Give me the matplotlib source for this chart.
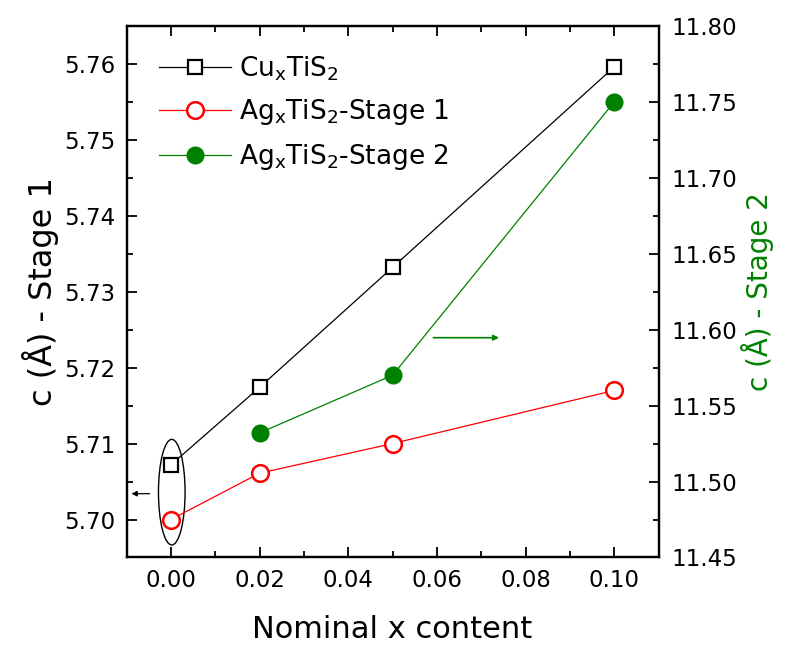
import matplotlib
matplotlib.use("Agg")
import matplotlib.pyplot as plt
from matplotlib.patches import Ellipse
from matplotlib.ticker import MultipleLocator, FormatStrFormatter

plt.rcParams["font.family"] = ["DejaVu Sans"]
plt.rcParams["mathtext.default"] = "regular"

# Nominal x content and lattice parameter c (Å)
x_cu = [0.00, 0.02, 0.05, 0.10]
c_cu = [5.7072, 5.7174, 5.7332, 5.7596]

x_ag1 = [0.00, 0.02, 0.05, 0.10]
c_ag1 = [5.7000, 5.7061, 5.7100, 5.7170]

x_ag2 = [0.02, 0.05, 0.10]
c_ag2 = [11.532, 11.570, 11.750]

labels = [r"Cu$_x$TiS$_2$", r"Ag$_x$TiS$_2$-Stage 1", r"Ag$_x$TiS$_2$-Stage 2"]

RED = "#ff0000"
GREEN = "#008000"

fig = plt.figure(figsize=(7.86, 6.46), dpi=100)
ax = fig.add_axes([0.161, 0.137, 0.677, 0.823])
ax2 = ax.twinx()

l1, = ax.plot(x_cu, c_cu, color="black", lw=0.9, marker="s", ms=10.5,
              mfc="white", mec="black", mew=1.6)
l2, = ax.plot(x_ag1, c_ag1, color=RED, lw=0.9, marker="o", ms=12,
              mfc="white", mec=RED, mew=1.8)
l3, = ax2.plot(x_ag2, c_ag2, color=GREEN, lw=0.9, marker="o", ms=12,
               mfc=GREEN, mec=GREEN, mew=1.0)

ax.set_xlim(-0.01, 0.11)
ax.set_ylim(5.695, 5.765)
ax2.set_ylim(11.45, 11.80)

ax.xaxis.set_major_locator(MultipleLocator(0.02))
ax.xaxis.set_minor_locator(MultipleLocator(0.01))
ax.xaxis.set_major_formatter(FormatStrFormatter("%.2f"))
ax.yaxis.set_major_locator(MultipleLocator(0.01))
ax.yaxis.set_minor_locator(MultipleLocator(0.005))
ax.yaxis.set_major_formatter(FormatStrFormatter("%.2f"))
ax2.yaxis.set_major_locator(MultipleLocator(0.05))
ax2.yaxis.set_minor_locator(MultipleLocator(0.025))
ax2.yaxis.set_major_formatter(FormatStrFormatter("%.2f"))

ax.tick_params(which="both", direction="in", top=True, right=False,
               width=1.3, labelsize=16.5, pad=8)
ax.tick_params(which="major", length=7.5)
ax.tick_params(which="minor", length=4.5)
ax2.tick_params(which="both", direction="in", width=1.3, labelsize=16.5, pad=9)
ax2.tick_params(which="major", length=7.5)
ax2.tick_params(which="minor", length=4.5)

for a in (ax, ax2):
    for s in a.spines.values():
        s.set_linewidth(1.6)

ax.set_xlabel("Nominal x content", fontsize=22, labelpad=17)
ax.set_ylabel("c (Å) - Stage 1", fontsize=23, labelpad=4)
ax2.set_ylabel("c (Å) - Stage 2", fontsize=20, color=GREEN, labelpad=3)

# ellipse grouping the undoped points, with arrow toward the left axis
ax.add_patch(Ellipse((0.0002, 5.7036), 0.006, 0.0139, fill=False,
                     ec="black", lw=1.0))
ax.annotate("", xy=(-0.0089, 5.7034), xytext=(-0.0048, 5.7034),
            arrowprops=dict(arrowstyle="-|>", color="black", lw=0.9,
                            mutation_scale=8, shrinkA=0, shrinkB=0))
ax2.annotate("", xy=(0.0740, 11.5947), xytext=(0.0592, 11.5947),
             arrowprops=dict(arrowstyle="-|>", color=GREEN, lw=1.2,
                             mutation_scale=8, shrinkA=0, shrinkB=0))

ax.legend([l1, l2, l3], labels, loc="upper left", frameon=False,
          fontsize=19, handlelength=2.7, numpoints=1, labelspacing=0.55,
          handletextpad=0.3, borderaxespad=0.2,
          bbox_to_anchor=(0.032, 0.976))

fig.savefig("out.png", dpi=100)
